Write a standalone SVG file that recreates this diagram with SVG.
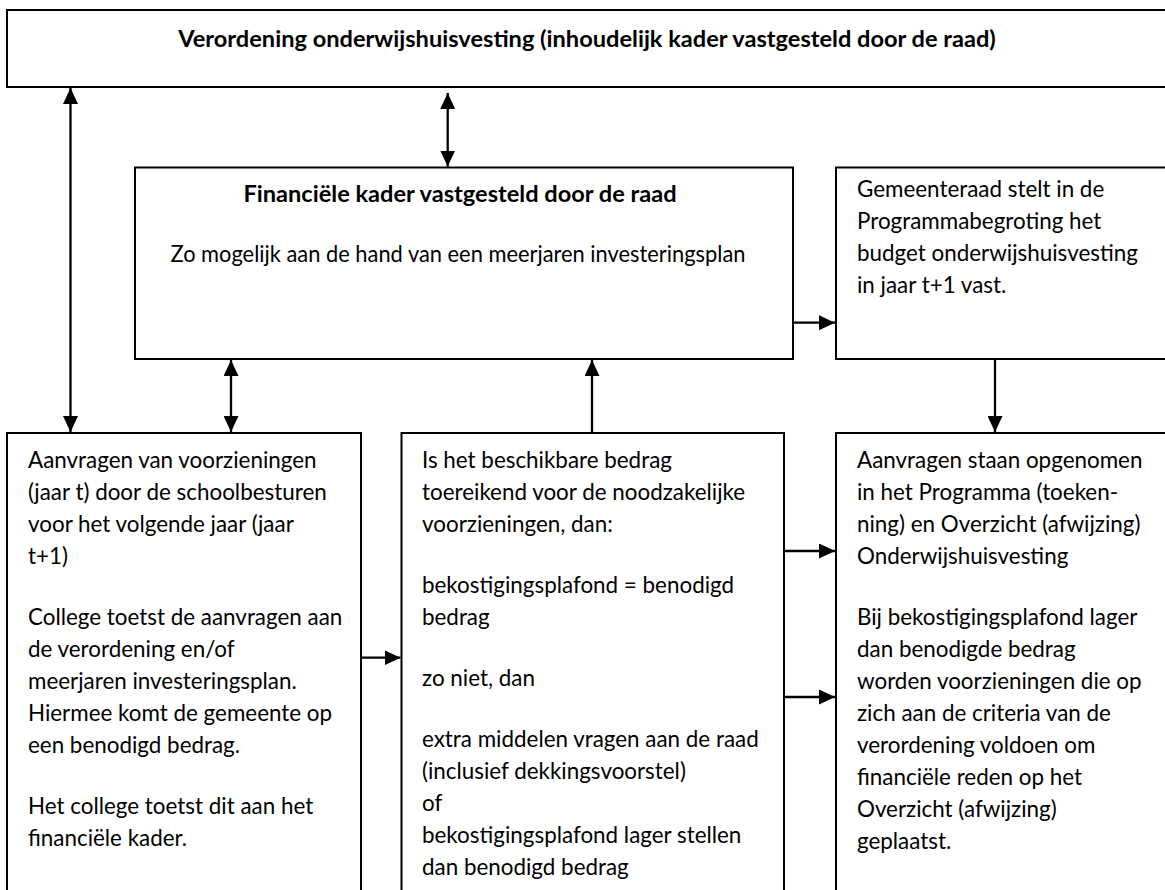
<svg xmlns="http://www.w3.org/2000/svg" width="1165" height="890" viewBox="0 0 1165 890">
<style>
.box{fill:#fff;stroke:#000;stroke-width:2}
.t{font-family:Lato,"Liberation Sans",sans-serif;font-size:22.4px;fill:#000}
.b{font-weight:bold;font-size:23.6px}
.c{stroke:#000;stroke-width:2.3;fill:none}
</style>
<defs>
<marker id="ah" markerUnits="userSpaceOnUse" markerWidth="16" markerHeight="15" refX="16" refY="7.5" orient="auto-start-reverse" viewBox="0 0 16 15">
<path d="M0,0 L16,7.5 L0,15 z" fill="#000"/>
</marker>
</defs>
<rect width="1165" height="890" fill="#fff"/>
<g id="verordening">
<rect class="box" x="7" y="10" width="1175" height="77"/>
<text class="t b" x="587" y="47" text-anchor="middle">Verordening onderwijshuisvesting (inhoudelijk kader vastgesteld door de raad)</text>
</g>
<g id="financieel">
<rect class="box" x="135" y="167.5" width="658" height="191.5"/>
<text class="t b" x="460" y="202" text-anchor="middle">Financiële kader vastgesteld door de raad</text>
<text class="t" x="458" y="262" text-anchor="middle" textLength="575" lengthAdjust="spacingAndGlyphs">Zo mogelijk aan de hand van een meerjaren investeringsplan</text>
</g>
<g id="gemeenteraad">
<rect class="box" x="836" y="167.5" width="345" height="191.5"/>
<text class="t"><tspan x="857" y="196.5">Gemeenteraad stelt in de</tspan><tspan x="857" y="228.5">Programmabegroting het</tspan><tspan x="857" y="260.5">budget onderwijshuisvesting</tspan><tspan x="857" y="292.5">in jaar t+1 vast.</tspan></text>
</g>
<g id="aanvragen">
<rect class="box" x="7" y="433" width="354" height="500"/>
<text class="t"><tspan x="28" y="467.5">Aanvragen van voorzieningen</tspan><tspan x="28" y="499.5">(jaar t) door de schoolbesturen</tspan><tspan x="28" y="531.5">voor het volgende jaar (jaar</tspan><tspan x="28" y="563.5">t+1)</tspan><tspan x="28" y="624.5">College toetst de aanvragen aan</tspan><tspan x="28" y="656.5">de verordening en/of</tspan><tspan x="28" y="688.5">meerjaren investeringsplan.</tspan><tspan x="28" y="720.5">Hiermee komt de gemeente op</tspan><tspan x="28" y="752.5">een benodigd bedrag.</tspan><tspan x="28" y="813.5">Het college toetst dit aan het</tspan><tspan x="28" y="845.5">financiële kader.</tspan></text>
</g>
<g id="toets">
<rect class="box" x="401.5" y="433" width="382.5" height="500"/>
<text class="t"><tspan x="422" y="467.5">Is het beschikbare bedrag</tspan><tspan x="422" y="499.5">toereikend voor de noodzakelijke</tspan><tspan x="422" y="531.5">voorzieningen, dan:</tspan><tspan x="422" y="592.5">bekostigingsplafond = benodigd</tspan><tspan x="422" y="624.5">bedrag</tspan><tspan x="422" y="685.5">zo niet, dan</tspan><tspan x="422" y="746.5">extra middelen vragen aan de raad</tspan><tspan x="422" y="778.5">(inclusief dekkingsvoorstel)</tspan><tspan x="422" y="810.5">of</tspan><tspan x="422" y="842.5">bekostigingsplafond lager stellen</tspan><tspan x="422" y="874.5">dan benodigd bedrag</tspan></text>
</g>
<g id="programma">
<rect class="box" x="836" y="433" width="345" height="500"/>
<text class="t"><tspan x="857" y="467.5">Aanvragen staan opgenomen</tspan><tspan x="857" y="499.5">in het Programma (toeken-</tspan><tspan x="857" y="531.5">ning) en Overzicht (afwijzing)</tspan><tspan x="857" y="563.5">Onderwijshuisvesting</tspan><tspan x="857" y="624.5">Bij bekostigingsplafond lager</tspan><tspan x="857" y="656.5">dan benodigde bedrag</tspan><tspan x="857" y="688.5">worden voorzieningen die op</tspan><tspan x="857" y="720.5">zich aan de criteria van de</tspan><tspan x="857" y="752.5">verordening voldoen om</tspan><tspan x="857" y="784.5">financiële reden op het</tspan><tspan x="857" y="816.5">Overzicht (afwijzing)</tspan><tspan x="857" y="848.5">geplaatst.</tspan></text>
</g>
<g id="connectors">
<line class="c" x1="70.5" y1="88" x2="70.5" y2="432" marker-start="url(#ah)" marker-end="url(#ah)"/>
<line class="c" x1="447.7" y1="93" x2="447.7" y2="166.5" marker-start="url(#ah)" marker-end="url(#ah)"/>
<line class="c" x1="231" y1="360" x2="231" y2="432" marker-start="url(#ah)" marker-end="url(#ah)"/>
<line class="c" x1="592" y1="432" x2="592" y2="360" marker-end="url(#ah)"/>
<line class="c" x1="793" y1="322.7" x2="835" y2="322.7" marker-end="url(#ah)"/>
<line class="c" x1="995" y1="359" x2="995" y2="432" marker-end="url(#ah)"/>
<line class="c" x1="361" y1="657.7" x2="400.5" y2="657.7" marker-end="url(#ah)"/>
<line class="c" x1="784" y1="551" x2="835" y2="551" marker-end="url(#ah)"/>
<line class="c" x1="784" y1="697" x2="835" y2="697" marker-end="url(#ah)"/>
</g>
</svg>
